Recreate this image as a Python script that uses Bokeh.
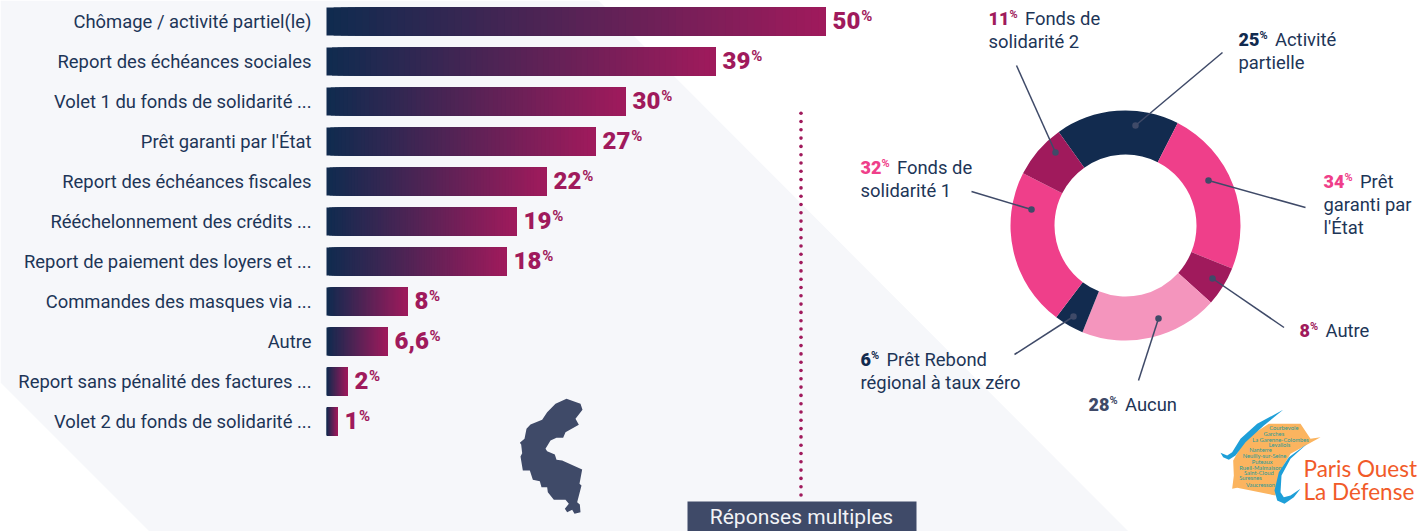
from bokeh.plotting import figure
from bokeh.embed import file_html
from bokeh.resources import INLINE
from bokeh.core.properties import value
from bokeh.models import Range1d
import math

# ---------- data ----------
categories = ["Chômage / activité partiel(le)", "Report des échéances sociales",
              "Volet 1 du fonds de solidarité ...", "Prêt garanti par l'État",
              "Report des échéances fiscales", "Rééchelonnement des crédits ...",
              "Report de paiement des loyers et ...", "Commandes des masques via ...",
              "Autre", "Report sans pénalité des factures ...",
              "Volet 2 du fonds de solidarité ..."]
bar_values = [49.9, 38.9, 29.9, 26.9, 22, 19, 18, 8.1, 6.1, 2.1, 1.1]
bar_labels = ["50", "39", "30", "27", "22", "19", "18", "8", "6,6", "2", "1"]

donut_names = ["Activité partielle", "Prêt garanti par l'État", "Autre", "Aucun",
               "Prêt Rebond régional à taux zéro", "Fonds de solidarité 1", "Fonds de solidarité 2"]
donut_values = [25, 34, 8, 28, 6, 32, 11]
donut_colors = ["#122b4f", "#ef3f8a", "#a01a5c", "#f495bd", "#122b4f", "#ef3f8a", "#a01a5c"]

cities = ["Courbevoie", "Garches", "La Garenne-Colombes", "Levallois", "Nanterre", "Neuilly-sur-Seine",
          "Puteaux", "Rueil-Malmaison", "Saint-Cloud", "Suresnes", "Vaucresson"]

# ---------- canvas: main ranges are the pixel grid of the picture ----------
W, H = 1418, 531
NAVY, MAG, INK, SLATE = "#122b4f", "#a01a5c", "#1d3557", "#3f4a68"
BODY = "Roboto"
p = figure(width=W, height=H, x_range=Range1d(0, W), y_range=Range1d(H, 0),
           output_backend="svg", toolbar_location=None, min_border=0,
           background_fill_color="white", border_fill_color="white", outline_line_color=None)
p.axis.visible = False
p.grid.visible = False
p.styles = {"position": "absolute", "left": "0px", "top": "0px"}

# background band
p.patch([0, 598, 1128, 149, 0], [0, 0, 531, 531, 382], fill_color="#f6f7fa", line_color=None)

# bars: value scale and row scale
p.extra_x_ranges["val"] = Range1d((0 - 326) / 10, (W - 326) / 10)
p.extra_y_ranges["row"] = Range1d((H - 21) / 40, (0 - 21) / 40)
N = 70
def lerp(a, b, t):
    return "#%02x%02x%02x" % tuple(round(a[k] + (b[k] - a[k]) * t) for k in range(3))
c0, c1 = (15, 43, 79), (160, 26, 92)
rows = list(range(len(categories)))
L, R, T, B, C = [], [], [], [], []
for i, v in zip(rows, bar_values):
    for k in range(N):
        L.append(v * k / N); R.append(v); T.append(i - 0.35); B.append(i + 0.35)
        C.append(lerp(c0, c1, (k + .5) / N))
p.quad(left=L, right=R, top=T, bottom=B, fill_color=C, line_color=None,
       x_range_name="val", y_range_name="row")

p.text(x=[0] * len(rows), y=rows, text=categories, x_offset=-15, text_align="right", text_baseline="middle",
       text_font=value(BODY), text_font_size="18.4px", text_color=INK, x_range_name="val", y_range_name="row")

def num_w(s, size=24.0):
    return sum(0.26 if ch == "," else 0.60 for ch in s) * size

p.text(x=bar_values, y=rows, text=bar_labels, x_offset=7, y_offset=-1, text_align="left", text_baseline="middle",
       text_font=value("Roboto Black"), text_font_size="24px", text_color=MAG,
       x_range_name="val", y_range_name="row")
p.text(x=bar_values, y=rows, text=["%"] * len(rows), x_offset=[7 + num_w(s) for s in bar_labels], y_offset=-6,
       text_align="left", text_baseline="middle", text_font=value("Roboto"), text_font_style="bold",
       text_font_size="15px", text_color=MAG, x_range_name="val", y_range_name="row")

# separator
dots = [112.7 + 8.3 * k for k in range(47)]
p.scatter([800.5] * len(dots), dots, size=3.6, marker="circle", fill_color=MAG, line_color=None)
p.quad(left=[687], right=[916], top=[501], bottom=[531], fill_color=SLATE, line_color=None)
p.text(x=[801], y=[516], text=["Réponses multiples"], text_align="center", text_baseline="middle",
       text_font=value(BODY), text_font_size="21px", text_color="#f2f3f6")

# donut
cx, cy, ro, ri = 1125, 225, 115, 71
total = sum(donut_values)
cur = -35.5
starts, ends = [], []
for v in donut_values:
    starts.append(cur); cur += v / total * 360; ends.append(cur)
to_rad = lambda a: math.radians(90 - a)
p.annular_wedge(x=cx, y=cy, inner_radius=ri, outer_radius=ro,
                start_angle=[to_rad(a) for a in starts], end_angle=[to_rad(a) for a in ends],
                direction="clock", fill_color=donut_colors, line_color=None,
                inner_radius_units="screen", outer_radius_units="screen")

# leaders
leaders = [((1222, 52), (1135, 125)), ((1016, 65), (1055, 152)), ((971, 191), (1031, 209)),
           ((1305, 207), (1208, 180)), ((1283.5, 327), (1212, 278)), ((1138, 380), (1158, 318)),
           ((1014, 354), (1073, 316))]
p.multi_line([[a[0], b[0]] for a, b in leaders], [[a[1], b[1]] for a, b in leaders],
             line_color="#3f4a68", line_width=1.5)
p.scatter([b[0] for a, b in leaders], [b[1] for a, b in leaders], size=6.5, marker="circle",
          fill_color="#3f4a68", line_color=None)

# donut labels
PINK, LPK = "#ef3f8a", "#3f4a68"
labels = [("11", MAG, 988, 17.5, ["Fonds de", "solidarité 2"]),
          ("25", NAVY, 1238, 38.5, ["Activité", "partielle"]),
          ("32", PINK, 860, 166.5, ["Fonds de", "solidarité 1"]),
          ("34", PINK, 1323, 180.5, ["Prêt", "garanti par", "l'État"]),
          ("8", MAG, 1299, 329.5, ["Autre"]),
          ("6", NAVY, 860, 358.5, ["Prêt Rebond", "régional à taux zéro"]),
          ("28", LPK, 1088, 403.5, ["Aucun"])]
for num, col, x, y, lines in labels:
    nw = len(num) * 10.5
    p.text(x=[x], y=[y], text=[num], text_baseline="middle", text_font=value("Roboto Black"),
           text_font_size="18px", text_color=col)
    p.text(x=[x + nw], y=[y - 4], text=["%"], text_baseline="middle", text_font=value("Roboto"),
           text_font_style="bold", text_font_size="11px", text_color=col)
    p.text(x=[x + nw + 15.5], y=[y], text=[lines[0]], text_baseline="middle", text_font=value(BODY),
           text_font_size="18.4px", text_color=INK)
    for j, t in enumerate(lines[1:], 1):
        p.text(x=[x], y=[y + 23 * j], text=[t], text_baseline="middle", text_font=value(BODY),
               text_font_size="18.4px", text_color=INK)

# district silhouette
shape = [(198,55),(240,70),(246,88),(225,115),(235,133),(195,155),(188,172),(168,172),(150,180),(135,205),(140,212),
         (163,222),(168,238),(185,240),(245,267),(237,310),(243,315),(230,365),(238,372),(240,395),(222,400),(215,388),
         (200,395),(193,385),(205,370),(195,358),(160,358),(142,335),(140,320),(123,320),(118,302),(97,298),(88,270),
         (67,270),(60,228),(65,218),(62,192),(58,187),(72,175),(78,145),(90,132),(125,118),(140,95),(165,70)]
p.patch([500 + a / 3 for a, b in shape], [380 + b / 3 for a, b in shape], fill_color=SLATE, line_color=None)

# logo
lx = lambda a: 1200 + a / 3
ly = lambda b: 400 + b / 3
orange = [(205,70),(300,70),(330,115),(360,110),(270,160),(240,210),(225,285),(110,262),(95,265),(100,225),(98,180),(135,115)]
p.patch([lx(a) for a, b in orange], [ly(b) for a, b in orange], fill_color="#fbb45f", line_color=None)
arc1 = [(60,157),(80,165),(95,155),(120,115),(170,70),(248,28),(190,75),(135,125),(105,165),(85,178),(68,170)]
arc2 = [(382,100),(320,130),(265,170),(235,215),(222,270),(230,300),(252,310),(280,290),(300,265),(270,285),(250,290),
        (240,275),(243,225),(270,175),(320,130)]
for arc in (arc1, arc2):
    p.patch([lx(a) for a, b in arc], [ly(b) for a, b in arc], fill_color="#1e9fd8", line_color=None)
cx_ = [250, 220, 240, 237, 180, 192, 185, 180, 175, 150, 180]
cy_ = [82, 100, 117, 133, 148, 165, 183, 200, 217, 232, 251]
p.text(x=[lx(a) for a in cx_], y=[ly(b) for b in cy_], text=cities, text_align="center", text_baseline="middle",
       text_font=value("Lato"), text_font_size="5.8px", text_color="#1f9a9a")
p.text(x=[1303, 1303], y=[468, 491], text=["Paris Ouest", "La Défense"], text_baseline="middle",
       text_font=value("Lato"), text_font_size="22.5px", text_color="#f15a29")

open("out.html", "w").write(file_html(p, INLINE))
